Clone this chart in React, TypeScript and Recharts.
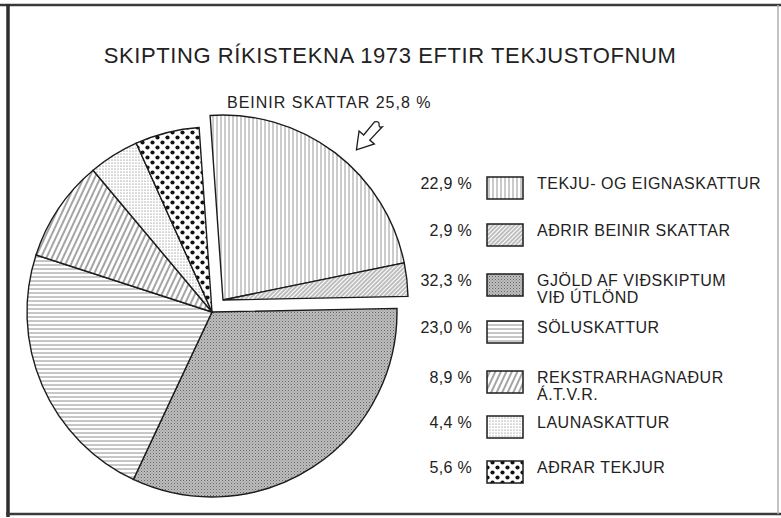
import { PieChart, Pie, Cell } from 'recharts';

// tekjustofnar 1973, % af ríkistekjum
const DIRECT_LABELS = [['TEKJU- OG EIGNASKATTUR'], ['AÐRIR BEINIR SKATTAR']];
const DIRECT_VALUES = [22.9, 2.9];
const OTHER_LABELS = [
  ['GJÖLD AF VIÐSKIPTUM', 'VIÐ ÚTLÖND'],
  ['SÖLUSKATTUR'],
  ['REKSTRARHAGNAÐUR', 'Á.T.V.R.'],
  ['LAUNASKATTUR'],
  ['AÐRAR TEKJUR'],
];
const OTHER_VALUES = [32.3, 23.0, 8.9, 4.4, 5.6];
const TITLE = 'SKIPTING RÍKISTEKNA 1973 EFTIR TEKJUSTOFNUM';
const DIRECT_TITLE = 'BEINIR SKATTAR';

const PATTERNS = ['pVert', 'pFine', 'pGray', 'pHoriz', 'pBold', 'pDots', 'pBig'];
const ROW_Y = [183, 230, 280, 327, 377, 422, 467];

const W = 781;
const H = 518;
const R = 185;
const CX = 212;
const CY = 312;
const DX = 11;
const DY = -12;
const START = 94;
const FONT = '"Liberation Sans", Arial, sans-serif';

const sum = (a: number[]) => a.reduce((s, v) => s + v, 0);
const fmt = (v: number) => v.toFixed(1).replace('.', ',');

const directData = DIRECT_VALUES.map((value, i) => ({ name: DIRECT_LABELS[i].join(' '), value }));
const otherData = OTHER_VALUES.map((value, i) => ({ name: OTHER_LABELS[i].join(' '), value }));
const allLabels = [...DIRECT_LABELS, ...OTHER_LABELS];
const allValues = [...DIRECT_VALUES, ...OTHER_VALUES];

const directTotal = sum(DIRECT_VALUES);
const total = directTotal + sum(OTHER_VALUES);
const directEnd = START - (360 * directTotal) / total;

const STROKE = '#1c1c1c';

const Patterns = () => (
  <defs>
    <pattern id="pVert" width="4" height="4" patternUnits="userSpaceOnUse">
      <rect width="4" height="4" fill="#fff" />
      <line x1="1" y1="0" x2="1" y2="4" stroke="#8c8c8c" strokeWidth="0.9" />
    </pattern>
    <pattern id="pFine" width="3" height="3" patternUnits="userSpaceOnUse" patternTransform="rotate(45)">
      <rect width="3" height="3" fill="#fff" />
      <line x1="1" y1="0" x2="1" y2="3" stroke="#5a5a5a" strokeWidth="0.8" />
    </pattern>
    <pattern id="pGray" width="3" height="3" patternUnits="userSpaceOnUse">
      <rect width="3" height="3" fill="#bdbdbd" />
      <rect x="0" y="0" width="1" height="1" fill="#666" />
      <rect x="1.5" y="1.5" width="1" height="1" fill="#888" />
    </pattern>
    <pattern id="pHoriz" width="4" height="4" patternUnits="userSpaceOnUse">
      <rect width="4" height="4" fill="#fff" />
      <line x1="0" y1="1" x2="4" y2="1" stroke="#808080" strokeWidth="0.9" />
    </pattern>
    <pattern id="pBold" width="5" height="5" patternUnits="userSpaceOnUse" patternTransform="rotate(25)">
      <rect width="5" height="5" fill="#fff" />
      <line x1="1" y1="0" x2="1" y2="5" stroke="#4a4a4a" strokeWidth="1" />
    </pattern>
    <pattern id="pDots" width="3" height="3" patternUnits="userSpaceOnUse">
      <rect width="3" height="3" fill="#fff" />
      <circle cx="1" cy="1" r="0.6" fill="#666" />
    </pattern>
    <pattern id="pBig" width="10" height="10" patternUnits="userSpaceOnUse">
      <rect width="10" height="10" fill="#fff" />
      <circle cx="2.5" cy="2.5" r="2.1" fill="#111" />
      <circle cx="7.5" cy="7.5" r="2.1" fill="#111" />
    </pattern>
  </defs>
);

const LegendRows = () => (
  <g fontFamily={FONT} fontSize={16} fill="#222">
    {allLabels.map((lines, i) => {
      const y = ROW_Y[i];
      return (
        <g key={i}>
          <text x={472} y={y + 6} textAnchor="end" letterSpacing={0.3}>
            {fmt(allValues[i])} %
          </text>
          <rect x={487} y={y - 6} width={36} height={22} fill={`url(#${PATTERNS[i]})`} stroke={STROKE} strokeWidth={1.5} />
          {lines.map((l, j) => (
            <text key={j} x={537} y={y + 6 + j * 17} letterSpacing={0.5}>
              {l}
            </text>
          ))}
        </g>
      );
    })}
  </g>
);

const Frame = () => (
  <g>
    <line x1={0} y1={5} x2={W} y2={5} stroke="#3a3a3a" strokeWidth={2.5} />
    <line x1={8} y1={4} x2={8} y2={517} stroke="#2e2e2e" strokeWidth={3.5} />
    <line x1={6} y1={514} x2={W} y2={514} stroke="#3a3a3a" strokeWidth={2.5} />
    <line x1={778} y1={5} x2={778} y2={514} stroke="#b0b0b0" strokeWidth={1.5} />
  </g>
);

const Arrow = () => (
  <path
    transform="translate(368,136) rotate(40)"
    d="M-4,-15 Q-1,-19 1,-16 Q3,-13 5,-16 L4,2 L10,2 L0,18 L-10,2 L-4,2 Z"
    fill="#fff"
    stroke={STROKE}
    strokeWidth={1.3}
  />
);

export default function App() {
  return (
    <div style={{ position: 'absolute', left: 0, top: 0, width: W, height: H, background: '#fff' }}>
      <PieChart width={W} height={H} margin={{ top: 0, right: 0, bottom: 0, left: 0 }}>
        <Patterns />
        <Frame />
        <text x={390} y={63} textAnchor="middle" fontFamily={FONT} fontSize={22} fill="#222" letterSpacing={0.6}>
          {TITLE}
        </text>
        <text x={227} y={108} fontFamily={FONT} fontSize={16} fill="#222" letterSpacing={1}>
          {`${DIRECT_TITLE} ${fmt(directTotal)} %`}
        </text>
        <Arrow />
        <Pie
          data={directData}
          dataKey="value"
          cx={CX + DX}
          cy={CY + DY}
          outerRadius={R}
          startAngle={START}
          endAngle={directEnd}
          stroke={STROKE}
          strokeWidth={1.4}
          isAnimationActive={false}
        >
          {directData.map((_, i) => (
            <Cell key={i} fill={`url(#${PATTERNS[i]})`} />
          ))}
        </Pie>
        <Pie
          data={otherData}
          dataKey="value"
          cx={CX}
          cy={CY}
          outerRadius={R}
          startAngle={directEnd}
          endAngle={START - 360}
          stroke={STROKE}
          strokeWidth={1.4}
          isAnimationActive={false}
        >
          {otherData.map((_, i) => (
            <Cell key={i} fill={`url(#${PATTERNS[i + DIRECT_VALUES.length]})`} />
          ))}
        </Pie>
        <LegendRows />
      </PieChart>
    </div>
  );
}
